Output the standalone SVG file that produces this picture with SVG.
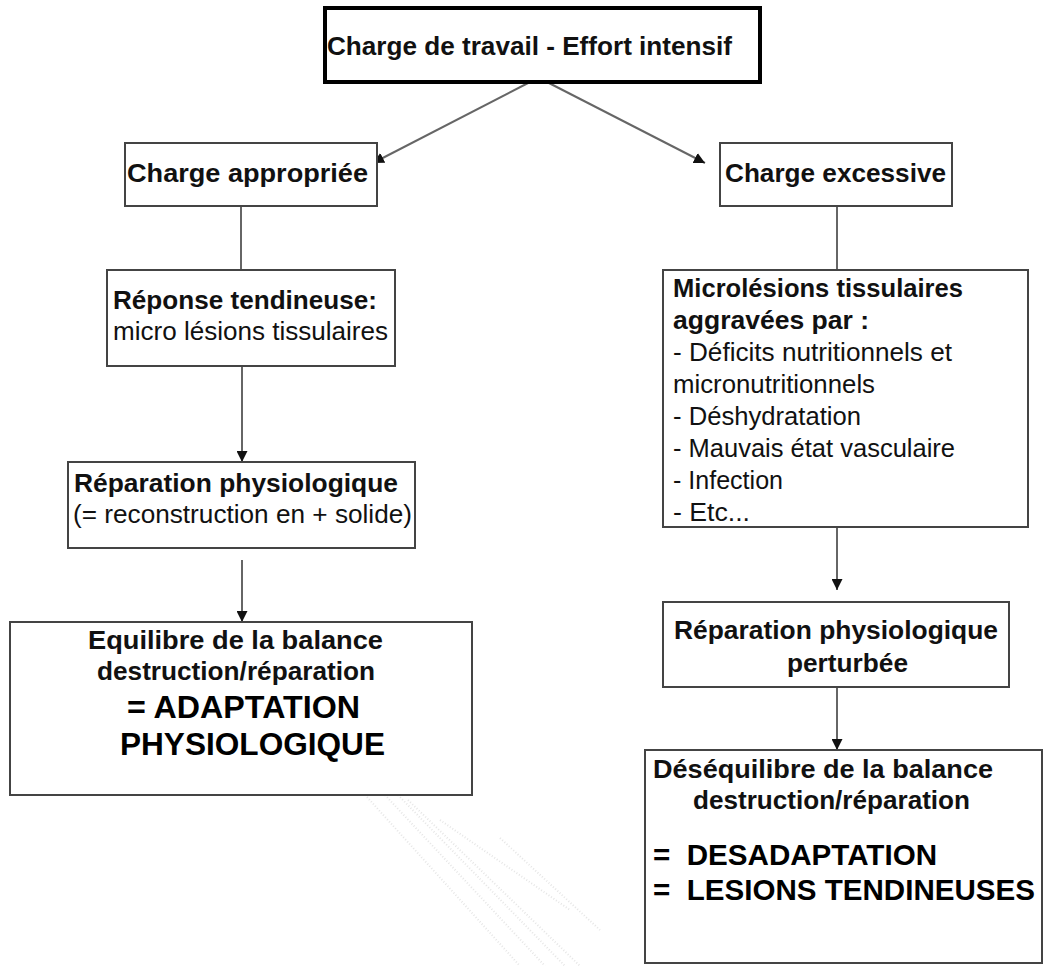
<svg xmlns="http://www.w3.org/2000/svg" width="1044" height="966" viewBox="0 0 1044 966">
<style>
.box{fill:#fff;stroke:#444;stroke-width:2}
.top{fill:#fff;stroke:#000;stroke-width:4}
.t{font-family:"Liberation Sans",Arial,sans-serif;font-size:26px;fill:#111}
.b{font-weight:bold}
.big{font-size:31px;font-weight:bold;fill:#000}
.big2{font-size:30px}
.c{fill:none;stroke:#666;stroke-width:2}
.wm{fill:none;stroke:#e6e6e6;stroke-width:2;stroke-dasharray:1 2}
</style>
<defs>
<marker id="ah" viewBox="0 0 10 10" refX="10" refY="5" markerWidth="11" markerHeight="11" markerUnits="userSpaceOnUse" orient="auto">
<path d="M0,0 L10,5 L0,10 Z" fill="#111"/>
</marker>
</defs>
<rect width="1044" height="966" fill="#fff"/>
<g id="watermark">
<line class="wm" x1="367" y1="797" x2="520" y2="966"/>
<line class="wm" x1="385" y1="795" x2="545" y2="966"/>
<line class="wm" x1="398" y1="795" x2="565" y2="966"/>
<line class="wm" x1="408" y1="800" x2="580" y2="966"/>
<line class="wm" x1="440" y1="820" x2="570" y2="910"/>
<line class="wm" x1="500" y1="838" x2="600" y2="930"/>
</g>
<g id="connectors">
<line class="c" x1="530" y1="82" x2="373" y2="163" marker-end="url(#ah)"/>
<line class="c" x1="547" y1="82" x2="705" y2="163" marker-end="url(#ah)"/>
<line class="c" x1="241" y1="206" x2="241" y2="270"/>
<line class="c" x1="242" y1="366" x2="242" y2="462" marker-end="url(#ah)"/>
<line class="c" x1="242" y1="560" x2="242" y2="622" marker-end="url(#ah)"/>
<line class="c" x1="837" y1="206" x2="837" y2="270"/>
<line class="c" x1="837" y1="527" x2="837" y2="590" marker-end="url(#ah)"/>
<line class="c" x1="837" y1="687" x2="837" y2="750" marker-end="url(#ah)"/>
</g>
<g id="n-top">
<rect class="top" x="325" y="8" width="435" height="74"/>
<text class="t b" x="327" y="55" textLength="405" lengthAdjust="spacingAndGlyphs">Charge de travail - Effort intensif</text>
</g>
<g id="n-appropriee">
<rect class="box" x="125" y="143" width="252" height="63"/>
<text class="t b" x="127" y="182" textLength="241" lengthAdjust="spacingAndGlyphs">Charge appropriée</text>
</g>
<g id="n-excessive">
<rect class="box" x="720" y="143" width="232" height="63"/>
<text class="t b" x="725" y="182" textLength="221" lengthAdjust="spacingAndGlyphs">Charge excessive</text>
</g>
<g id="n-reponse">
<rect class="box" x="107" y="270" width="288" height="96"/>
<text class="t b" x="113" y="309" textLength="264" lengthAdjust="spacingAndGlyphs">Réponse tendineuse:</text>
<text class="t" x="113" y="340" textLength="275" lengthAdjust="spacingAndGlyphs">micro lésions tissulaires</text>
</g>
<g id="n-reparation">
<rect class="box" x="68" y="462" width="347" height="86"/>
<text class="t b" x="74" y="492" textLength="324" lengthAdjust="spacingAndGlyphs">Réparation physiologique</text>
<text class="t" x="73" y="523" textLength="339" lengthAdjust="spacingAndGlyphs">(= reconstruction en + solide)</text>
</g>
<g id="n-equilibre">
<rect class="box" x="10" y="622" width="462" height="173"/>
<text class="t b" x="88" y="649" textLength="295" lengthAdjust="spacingAndGlyphs">Equilibre de la balance</text>
<text class="t b" x="97" y="680" textLength="278" lengthAdjust="spacingAndGlyphs">destruction/réparation</text>
<text class="t big" x="127" y="718" textLength="233" lengthAdjust="spacingAndGlyphs">= ADAPTATION</text>
<text class="t big" x="120" y="755" textLength="265" lengthAdjust="spacingAndGlyphs">PHYSIOLOGIQUE</text>
</g>
<g id="n-microlesions">
<rect class="box" x="663" y="270" width="365" height="257"/>
<text class="t b" x="673" y="297" textLength="290" lengthAdjust="spacingAndGlyphs">Microlésions tissulaires</text>
<text class="t b" x="673" y="329" textLength="196" lengthAdjust="spacingAndGlyphs">aggravées par :</text>
<text class="t" x="673" y="361" textLength="279" lengthAdjust="spacingAndGlyphs">- Déficits nutritionnels et</text>
<text class="t" x="673" y="393" textLength="202" lengthAdjust="spacingAndGlyphs">micronutritionnels</text>
<text class="t" x="673" y="425" textLength="188" lengthAdjust="spacingAndGlyphs">- Déshydratation</text>
<text class="t" x="673" y="457" textLength="282" lengthAdjust="spacingAndGlyphs">- Mauvais état vasculaire</text>
<text class="t" x="673" y="489" textLength="110" lengthAdjust="spacingAndGlyphs">- Infection</text>
<text class="t" x="673" y="521" textLength="77" lengthAdjust="spacingAndGlyphs">- Etc...</text>
</g>
<g id="n-perturbee">
<rect class="box" x="663" y="602" width="346" height="85"/>
<text class="t b" x="674" y="639" textLength="324" lengthAdjust="spacingAndGlyphs">Réparation physiologique</text>
<text class="t b" x="787" y="672" textLength="121" lengthAdjust="spacingAndGlyphs">perturbée</text>
</g>
<g id="n-desequilibre">
<rect class="box" x="645" y="750" width="397" height="213"/>
<text class="t b" x="653" y="778" textLength="340" lengthAdjust="spacingAndGlyphs">Déséquilibre de la balance</text>
<text class="t b" x="693" y="809" textLength="277" lengthAdjust="spacingAndGlyphs">destruction/réparation</text>
<text class="t big big2" x="653" y="865" textLength="284" lengthAdjust="spacingAndGlyphs" xml:space="preserve">=  DESADAPTATION</text>
<text class="t big big2" x="653" y="900" textLength="382" lengthAdjust="spacingAndGlyphs" xml:space="preserve">=  LESIONS TENDINEUSES</text>
</g>
</svg>
